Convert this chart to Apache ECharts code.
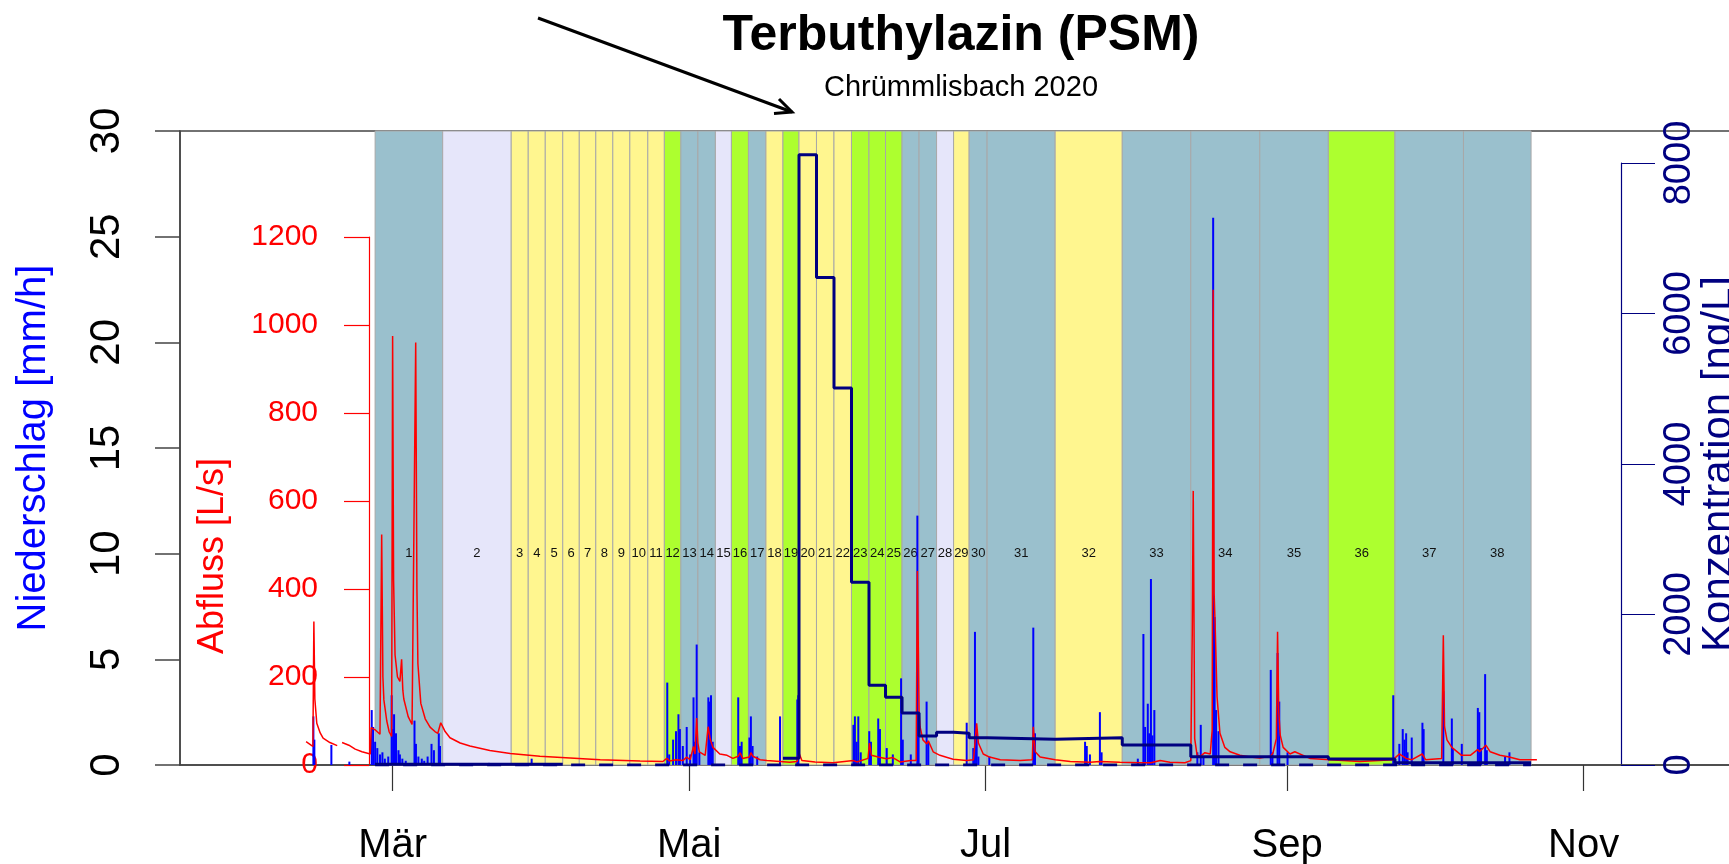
<!DOCTYPE html>
<html><head><meta charset="utf-8">
<script src="https://cdn.jsdelivr.net/npm/echarts@6/dist/echarts.min.js"></script>
<style>html,body{margin:0;padding:0;background:#fff}#c{width:1729px;height:864px}</style>
</head><body><div id="c"></div>
<script>
// Zeit als Tag im Jahr 2020 (0 = 1. Jan 00:00)
const monthTicks = [60, 121, 182, 244, 305];
const monthLabels = ['Mär', 'Mai', 'Jul', 'Sep', 'Nov'];

// Probenahme-Intervalle (Grenzen), 38 Proben
const sampleEdges = [56.4, 70.3, 84.4, 87.9, 91.4, 95.0, 98.4, 101.8, 105.3, 108.8, 112.5, 115.9, 119.3, 122.8,
  126.4, 129.7, 133.2, 136.8, 140.3, 143.6, 147.2, 150.8, 154.4, 158.0, 161.4, 164.8, 168.3, 171.9, 175.4,
  178.6, 182.3, 196.3, 210.1, 224.2, 238.4, 252.5, 266.2, 280.3, 294.2];
// Klasse je Probe (B, L, Y, G)
const sampleClass = ['B','L','Y','Y','Y','Y','Y','Y','Y','Y','Y','G','B','B','L','G','B','Y','G','Y','Y','Y',
  'G','G','G','B','B','L','Y','B','B','Y','B','B','B','G','B','B'];
// Konzentration je Probe [ng/L]
const concentration = [10, 10, 10, 10, 10, null, null, null, null, null, null, null, null, null, null, null, null, null,
  89, 8110, 6480, 5010, 2430, 1060, 900, 690, 385, 434, 421, 363, 341, 363, 266, 111, 111, 80, 30, 30];

// Niederschlag [mm/h]
const precipitation = [
[43.7,2.3],[43.9,1.2],[47.4,0.95],[51.1,0.16],
[55.7,2.6],[56.0,1.8],[56.4,1.1],[56.85,0.8],[57.4,0.5],[57.9,0.6],[58.4,0.3],[59.1,0.4],[59.8,3.3],[60.1,1.7],[60.3,2.4],[60.7,1.5],[61.2,0.7],[61.5,0.5],[62.0,0.3],[62.7,0.2],[64.5,2.1],[64.8,1.0],[65.3,0.4],[66.0,0.3],[66.5,0.2],[67.2,0.4],[68.0,1.0],[68.5,0.7],[69.5,1.5],[69.75,0.9],
[79.8,0.1],[88.6,0.3],
[116.5,3.9],[116.9,0.5],[117.7,1.2],[118.3,1.6],[118.8,2.4],[119.1,1.7],[119.7,0.9],[120.5,1.8],[121.2,0.5],[121.9,3.2],[122.2,1.1],[122.55,5.7],[123.1,0.6],[124.95,3.2],[125.15,3.0],[125.5,3.3],[125.85,1.1],
[131.1,3.2],[131.45,0.9],[131.8,1.1],[133.4,1.3],[133.7,2.3],[134.05,0.9],[135.0,0.4],[139.7,2.3],[143.25,3.1],[143.45,3.3],
[154.8,1.9],[155.1,2.3],[155.45,1.1],[155.8,2.3],[156.3,0.6],[158.05,1.6],[158.4,1.1],[159.9,2.2],[160.25,1.7],[161.65,0.8],[162.9,0.5],[164.6,4.1],[164.95,1.2],[166.6,0.5],[167.95,11.8],[168.2,2.0],[169.85,3.0],[170.2,1.1],
[178.1,2.0],[179.45,0.8],[179.8,6.3],[180.15,1.7],[180.5,0.4],[182.75,0.4],[191.8,6.5],[192.15,1.5],[202.45,1.1],[202.8,0.9],[203.45,0.5],[205.5,2.5],[205.85,0.6],
[213.3,0.3],[214.45,6.2],[214.8,1.8],[215.35,2.9],[215.65,1.5],[216.0,8.8],[216.3,1.4],[216.7,2.6],[225.55,0.6],[226.25,1.9],[226.8,0.4],[228.8,25.9],[229.1,7.0],[229.4,2.6],[229.9,1.6],[240.65,4.5],[241.0,0.6],[242.05,5.3],[242.4,3.0],[244.1,0.6],
[265.85,3.3],[267.1,1.0],[267.8,1.7],[268.15,1.2],[268.5,1.5],[268.8,0.6],[269.65,1.3],[271.85,2.0],[272.1,1.7],[276.15,3.5],[277.9,2.2],[278.1,0.8],[279.95,1.0],[283.25,2.7],[283.55,2.5],[283.9,0.8],[284.75,4.3],[285.1,0.7],[288.85,0.4],[289.75,0.6]
];

// Abfluss [L/s]
const discharge = [
[42.2,53],[43.0,47],[43.6,42],[43.8,326],[44.0,150],[44.4,95],[45.1,73],[45.7,61],[47.1,51],[48.6,44],[48.9,null],
[49.6,51],[51.0,45],[52.3,36],[53.7,30],[55.4,25],[55.6,85],[56.0,83],[56.4,80],[56.9,75],[57.4,70],[57.75,524],[58.0,200],[58.2,148],[58.8,100],[59.3,75],[59.8,65],[60.0,975],[60.2,420],[60.5,250],[61.0,200],[61.5,190],[61.85,240],[62.1,170],[62.3,150],[63.2,110],[64.0,92],[64.4,88],[64.75,960],[65.0,400],[65.2,230],[65.8,140],[66.7,105],[67.7,86],[68.7,76],[69.3,72],[69.9,96],[70.4,85],[70.8,76],[71.8,62],[73.9,50],[75.9,43],[80.0,33],[84.2,26],[90.3,20],[96.5,16],[102.7,12],[110.9,9],[115.6,8],[116.4,15],[117.0,9],[118.3,12],[119.7,10],[120.5,18],[121.2,12],[121.9,42],[122.2,25],[122.55,107],[122.8,50],[123.1,30],[124.3,22],[124.9,87],[125.3,60],[125.9,40],[127.3,25],[128.8,22],[130.0,15],[131.1,20],[131.5,28],[132.0,15],[133.4,18],[133.7,28],[134.1,20],[135.6,12],[137.0,10],[139.7,8],[141.7,6],[143.2,8],[143.6,27],[144.2,10],[146.9,7],[150.6,5],[154.8,10],[155.2,14],[155.5,7],[157.8,15],[158.1,50],[158.5,22],[159.9,18],[160.3,22],[161.6,14],[162.9,17],[164.4,7],[166.6,10],[167.7,10],[167.95,441],[168.3,120],[168.5,87],[169.1,57],[169.9,48],[170.2,55],[171.2,30],[172.6,22],[174.1,17],[175.3,13],[178.1,10],[179.5,12],[180.15,95],[180.5,50],[181.5,25],[182.8,18],[185.0,12],[189.1,10],[191.6,12],[191.8,87],[192.2,30],[193.2,18],[196.3,12],[199.4,8],[203.5,6],[205.5,8],[209.6,6],[213.8,5],[216.0,5],[217.9,10],[219.9,6],[223.0,5],[224.2,10],[224.5,300],[224.7,623],[225.0,60],[225.5,22],[226.2,20],[227.1,28],[228.2,25],[228.6,80],[228.8,1080],[229.0,390],[229.2,322],[229.6,155],[230.2,72],[231.2,40],[232.3,30],[234.3,22],[236.4,18],[238.4,16],[240.6,20],[241.1,27],[241.8,60],[242.05,303],[242.3,120],[242.6,68],[243.2,40],[244.6,25],[245.6,30],[248.7,15],[252.8,12],[259.0,8],[265.9,12],[266.4,18],[267.1,25],[267.8,20],[268.5,15],[269.7,12],[271.8,25],[272.5,12],[275.8,15],[276.15,295],[276.4,87],[276.9,57],[277.9,40],[279.9,22],[281.7,22],[283.2,35],[283.6,30],[284.9,45],[285.8,30],[287.8,22],[288.9,20],[289.7,18],[291.9,12],[295.4,12]
];

// ---- Darstellung ----
const FONT = "'Liberation Sans', Arial, Helvetica, sans-serif";
const NARROW = "'Liberation Sans Narrow', 'Arial Narrow', 'Liberation Sans', sans-serif";
const X_MIN = 16.26, X_MAX = 336.77;
const classColor = { B: '#9AC0CD', L: '#E6E6FA', Y: '#FFF68F', G: '#ADFF2F' };
const plain = v => String(v);

const bandData = [];
for (let i = 0; i < sampleClass.length; i++) bandData.push([sampleEdges[i], sampleEdges[i + 1], i]);

const concLine = [];
for (let i = 0; i < concentration.length; i++) {
  const c = concentration[i];
  if (c == null) { concLine.push([sampleEdges[i], null]); continue; }
  concLine.push([sampleEdges[i], c], [sampleEdges[i + 1], c]);
}
const zeroLine = [[sampleEdges[0], 0], [sampleEdges[sampleEdges.length - 1], 0]];

const hiddenX = (g) => ({ type: 'value', gridIndex: g, min: X_MIN, max: X_MAX, show: false });

const chart = echarts.init(document.getElementById('c'), null, { renderer: 'canvas' });
chart.setOption({
  animation: false,
  backgroundColor: '#fff',
  textStyle: { fontFamily: FONT },
  title: [
    { text: 'Terbuthylazin (PSM)', left: 956, top: 6, textAlign: 'center',
      textStyle: { fontSize: 50, fontWeight: 'bold', color: '#000', fontFamily: FONT } },
    { text: 'Chrümmlisbach 2020', left: 956, top: 68, textAlign: 'center',
      textStyle: { fontSize: 29, fontWeight: 'normal', color: '#000', fontFamily: FONT } }
  ],
  graphic: [
    { type: 'polyline', shape: { points: [[538, 18], [792, 112]] }, style: { stroke: '#000', lineWidth: 3 } },
    { type: 'polyline', shape: { points: [[779, 99], [792, 112], [774, 113.5]] }, style: { stroke: '#000', lineWidth: 3, fill: null } }
  ],
  grid: [
    { left: 180, width: 1558, top: 131, bottom: 99, outerBoundsMode: 'none', containLabel: false,
      show: true, borderColor: '#444', borderWidth: 1.5 },
    { left: 180, width: 1558, top: 237, bottom: 99, outerBoundsMode: 'none', containLabel: false },
    { left: 180, width: 1558, top: 163, bottom: 99, outerBoundsMode: 'none', containLabel: false }
  ],
  xAxis: [
    { type: 'value', gridIndex: 0, min: X_MIN, max: X_MAX,
      axisLine: { show: true, lineStyle: { color: '#444', width: 1.5 } },
      axisTick: { show: true, customValues: monthTicks, length: 26, lineStyle: { color: '#333', width: 1.2 } },
      axisLabel: { customValues: monthTicks, formatter: v => monthLabels[monthTicks.indexOf(v)] || '',
        fontSize: 40, color: '#000', margin: 61, fontFamily: FONT },
      splitLine: { show: false } },
    hiddenX(1), hiddenX(2)
  ],
  yAxis: [
    { type: 'value', gridIndex: 0, min: 0, max: 30, interval: 5, position: 'left',
      axisLine: { show: true, lineStyle: { color: '#444', width: 1.5 } },
      axisTick: { show: true, length: 25, lineStyle: { color: '#444', width: 1.5 } },
      axisLabel: { rotate: 90, fontSize: 42, color: '#000', margin: 52, fontFamily: FONT, formatter: plain },
      splitLine: { show: false },
      name: 'Niederschlag [mm/h]', nameLocation: 'middle', nameGap: 126, nameMoveOverlap: false,
      nameTextStyle: { color: '#0000FF', fontSize: 40, fontFamily: FONT } },
    { type: 'value', gridIndex: 1, min: 0, max: 1200, interval: 200, position: 'left', offset: -189,
      axisLine: { show: true, lineStyle: { color: '#FF0000', width: 1.2 } },
      axisTick: { show: true, length: 25, lineStyle: { color: '#FF0000', width: 1.2 } },
      axisLabel: { fontSize: 30, color: '#FF0000', margin: 51, fontFamily: FONT, formatter: plain },
      splitLine: { show: false },
      name: 'Abfluss [L/s]', nameLocation: 'middle', nameGap: 138, nameMoveOverlap: false,
      nameTextStyle: { color: '#FF0000', fontSize: 36, fontFamily: FONT, padding: [0, 110, 0, 0] } },
    { type: 'value', gridIndex: 2, min: 0, max: 8000, interval: 2000, position: 'right', offset: -117,
      axisLine: { show: true, lineStyle: { color: '#000080', width: 1.2 } },
      axisTick: { show: true, length: 34, lineStyle: { color: '#000080', width: 1.2 } },
      axisLabel: { rotate: 90, fontSize: 38, color: '#000080', margin: 40, fontFamily: NARROW, formatter: plain },
      splitLine: { show: false },
      name: 'Konzentration [ng/L]', nameLocation: 'middle', nameGap: 77, nameMoveOverlap: false,
      nameTextStyle: { color: '#000080', fontSize: 42, fontFamily: FONT } }
  ],
  series: [
    { type: 'custom', name: 'Proben', xAxisIndex: 0, yAxisIndex: 0, z: 1, silent: true,
      data: bandData, encode: { x: [0, 1] },
      renderItem: (params, api) => {
        const s = api.value(0), e = api.value(1), i = api.value(2);
        const p0 = api.coord([s, 30]), p1 = api.coord([e, 0]);
        const ly = api.coord([s, 10])[1];
        return { type: 'group', children: [
          { type: 'rect', shape: { x: p0[0], y: p0[1], width: p1[0] - p0[0], height: p1[1] - p0[1] },
            style: { fill: classColor[sampleClass[i]], stroke: '#a8a8a8', lineWidth: 1 } },
          { type: 'text', style: { text: String(i + 1), x: (p0[0] + p1[0]) / 2, y: ly, align: 'center',
            verticalAlign: 'middle', fontSize: 13, fill: '#111', fontFamily: FONT } }
        ] };
      } },
    { type: 'custom', name: 'Niederschlag', xAxisIndex: 0, yAxisIndex: 0, z: 2, silent: true,
      data: precipitation, encode: { x: 0, y: 1 },
      renderItem: (params, api) => {
        const a = api.coord([api.value(0), 0]), b = api.coord([api.value(0), api.value(1)]);
        return { type: 'line', shape: { x1: a[0], y1: a[1], x2: b[0], y2: b[1] },
          style: { stroke: '#0000FF', lineWidth: 2 } };
      } },
    { type: 'line', name: 'Abfluss', xAxisIndex: 1, yAxisIndex: 1, z: 3, data: discharge,
      showSymbol: false, connectNulls: false, lineStyle: { color: '#FF0000', width: 1.5 } },
    { type: 'line', name: 'Null', xAxisIndex: 2, yAxisIndex: 2, z: 4, data: zeroLine,
      showSymbol: false, lineStyle: { color: '#000080', width: 3, type: [14, 14] } },
    { type: 'line', name: 'Konzentration', xAxisIndex: 2, yAxisIndex: 2, z: 5, data: concLine, clip: false,
      showSymbol: false, connectNulls: false, lineStyle: { color: '#000080', width: 3 } }
  ]
});
</script>
</body></html>
